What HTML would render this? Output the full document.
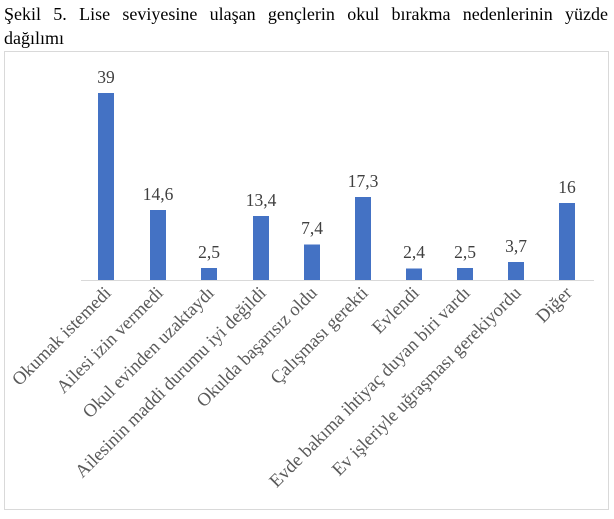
<!DOCTYPE html>
<html><head><meta charset="utf-8"><style>
body{margin:0;background:#fff;width:614px;height:519px;overflow:hidden;font-family:"Liberation Serif",serif;}
.t{position:absolute;left:4px;width:604px;font-size:18px;color:#000;line-height:24px;}
</style></head><body>
<div class="t" style="top:2px;text-align:justify;text-align-last:justify;">Şekil 5. Lise seviyesine ulaşan gençlerin okul bırakma nedenlerinin yüzde</div>
<div class="t" style="top:26px;">dağılımı</div>
<svg width="614" height="519" style="position:absolute;left:0;top:0" font-family="Liberation Serif, serif">
<rect x="4.5" y="51.5" width="604" height="458" fill="none" stroke="#d9d9d9"/>
<line x1="81" y1="280.5" x2="594" y2="280.5" stroke="#d9d9d9"/>
<g fill="#4472c4">
<rect x="98" y="93" width="16" height="187"/>
<rect x="150" y="210" width="16" height="70"/>
<rect x="201" y="268" width="16" height="12"/>
<rect x="253" y="216" width="16" height="64"/>
<rect x="304" y="244.5" width="16" height="35.5"/>
<rect x="355" y="197" width="16" height="83"/>
<rect x="406" y="268.5" width="16" height="11.5"/>
<rect x="457" y="268" width="16" height="12"/>
<rect x="508" y="262" width="16" height="18"/>
<rect x="559" y="203" width="16" height="77"/>
</g>
<g font-size="17.5" fill="#404040" text-anchor="middle">
<text x="106" y="83">39</text>
<text x="158" y="200">14,6</text>
<text x="209" y="258">2,5</text>
<text x="261" y="206">13,4</text>
<text x="312" y="234">7,4</text>
<text x="363" y="187">17,3</text>
<text x="414" y="258">2,4</text>
<text x="465" y="258">2,5</text>
<text x="516" y="252">3,7</text>
<text x="567" y="193">16</text>
</g>
<g font-size="18.5" fill="#595959" text-anchor="end">
<text transform="translate(112,294) rotate(-45)">Okumak istemedi</text>
<text transform="translate(164,294) rotate(-45)">Ailesi izin vermedi</text>
<text transform="translate(215,294) rotate(-45)">Okul evinden uzaktaydı</text>
<text transform="translate(267,294) rotate(-45)">Ailesinin maddi durumu iyi değildi</text>
<text transform="translate(318,294) rotate(-45)">Okulda başarısız oldu</text>
<text transform="translate(369,294) rotate(-45)">Çalışması gerekti</text>
<text transform="translate(420,294) rotate(-45)">Evlendi</text>
<text transform="translate(471,294) rotate(-45)">Evde bakıma ihtiyaç duyan biri vardı</text>
<text transform="translate(522,294) rotate(-45)">Ev işleriyle uğraşması gerekiyordu</text>
<text transform="translate(573,294) rotate(-45)">Diğer</text>
</g>
</svg>
</body></html>
